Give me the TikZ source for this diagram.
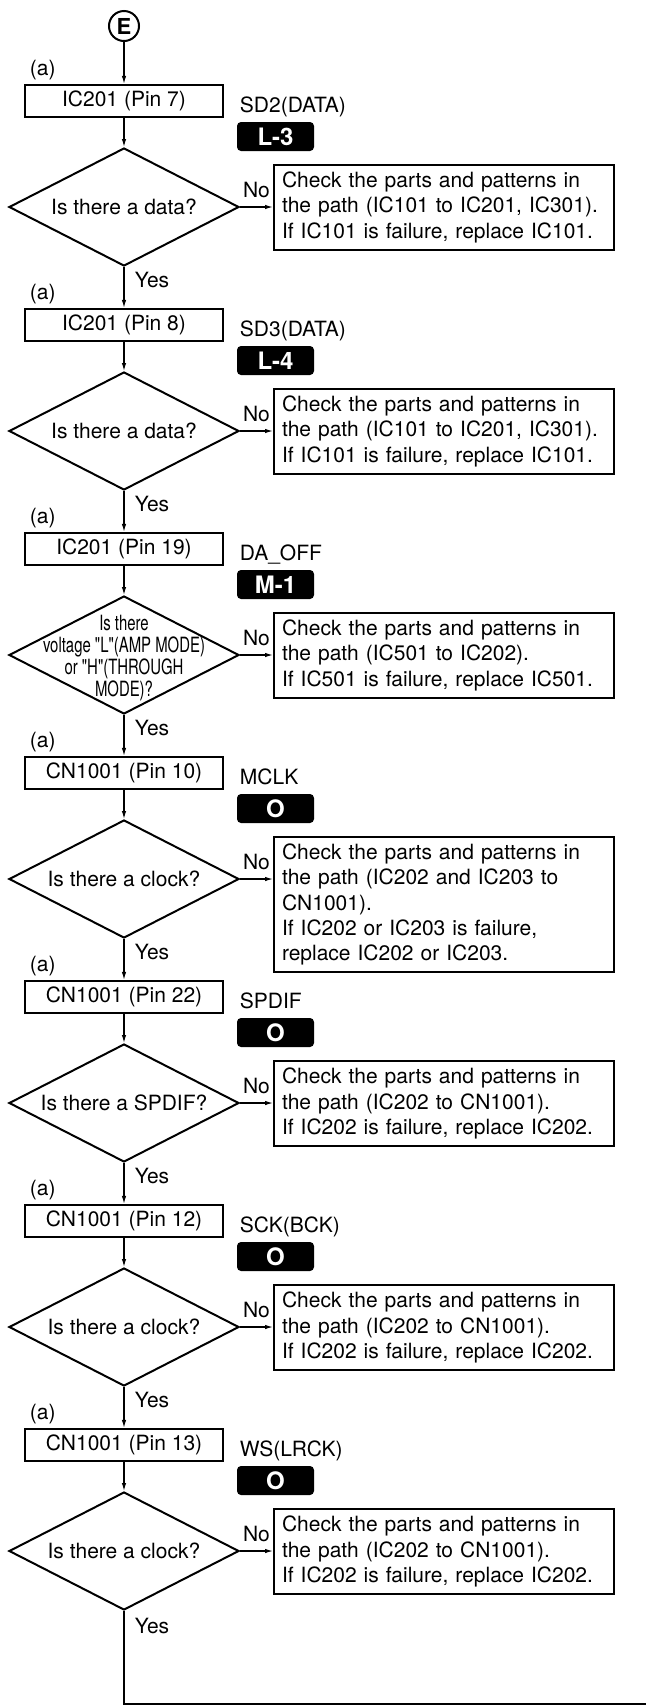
\documentclass[tikz,border=0pt]{standalone}
\usepackage{fontspec}
\setmainfont{TeX Gyre Heros}
\newfontfamily\narrowfont[FakeStretch=0.71]{TeX Gyre Heros}
\usetikzlibrary{shapes.geometric,arrows.meta}

\begin{document}
\begin{tikzpicture}[x=1pt, y=-1pt, line width=1.2pt,
    >={Latex[length=8pt, width=4.5pt]},
    font=\fontsize{21}{25.3}\selectfont,
    pinbox/.style={draw, line width=2.2pt, minimum width=198pt,
      minimum height=32pt, inner sep=0pt},
    tagbox/.style={fill=black, text=white, rounded corners=4pt,
      minimum width=77pt, minimum height=29pt, inner sep=0pt,
      font=\fontsize{24}{24}\selectfont\bfseries},
    askbox/.style={diamond, draw, line width=2pt, aspect=1.95,
      minimum width=230pt, minimum height=118pt, inner sep=0pt},
    chkbox/.style={draw, line width=2pt, anchor=north west,
      text width=324pt, align=left, inner xsep=8pt, inner ysep=7pt}]
        \useasboundingbox (0, 0) rectangle (646, 1706);
        \node[circle, draw, line width=2pt, minimum size=30pt, inner sep=0pt,
          font=\fontsize{22}{22}\selectfont\bfseries] (E) at (124, 26) {E};
        \foreach \k/\pin/\sig/\tag/\ask/\chk in {
          1/IC201 (Pin 7)/SD2(DATA)/L-3/Is there a data?/{Check the parts and patterns in\\the path (IC101 to IC201, IC301).\\If IC101 is failure, replace IC101.},
          2/IC201 (Pin 8)/SD3(DATA)/L-4/Is there a data?/{Check the parts and patterns in\\the path (IC101 to IC201, IC301).\\If IC101 is failure, replace IC101.},
          3/IC201 (Pin 19)/DA\_OFF/M-1/{\narrowfont\fontsize{21}{21}\selectfont\smash{\raisebox{-9pt}{\makebox[0pt]{\begin{tabular}{@{}c@{}}Is there\\voltage "L"(AMP MODE)\\or "H"(THROUGH\\MODE)?\end{tabular}}}}}/{Check the parts and patterns in\\the path (IC501 to IC202).\\If IC501 is failure, replace IC501.},
          4/CN1001 (Pin 10)/MCLK/O/Is there a clock?/{Check the parts and patterns in\\the path (IC202 and IC203 to\\CN1001).\\If IC202 or IC203 is failure,\\replace IC202 or IC203.},
          5/CN1001 (Pin 22)/SPDIF/O/Is there a SPDIF?/{Check the parts and patterns in\\the path (IC202 to CN1001).\\If IC202 is failure, replace IC202.},
          6/CN1001 (Pin 12)/SCK(BCK)/O/Is there a clock?/{Check the parts and patterns in\\the path (IC202 to CN1001).\\If IC202 is failure, replace IC202.},
          7/CN1001 (Pin 13)/WS(LRCK)/O/Is there a clock?/{Check the parts and patterns in\\the path (IC202 to CN1001).\\If IC202 is failure, replace IC202.}}
        {
          \pgfmathsetmacro\ty{85 + 224*(\k - 1)}
          \node[anchor=base west] (a\k) at (26, \ty - 10) {(a)};
          \node[pinbox] (b\k) at (124, \ty + 16) {\pin};
          \node[anchor=base west] (s\k) at (236, \ty + 27) {\sig};
          \node[tagbox] (t\k) at (275.5, \ty + 51.5) {\tag};
          \node[askbox] (d\k) at (124, \ty + 122) {\ask};
          \node[chkbox] (c\k) at (273, \ty + 79) {\chk};
          \draw[->] (b\k) -- (d\k);
          \draw[->] (d\k.east) -- (d\k.east -| c\k.west)
            node[midway, anchor=base, yshift=10pt] {No};
        }
        \draw[->] (E) -- (b1);
        \foreach \k [evaluate=\k as \n using int(\k + 1)] in {1, ..., 6}
          \draw[->] (d\k) -- (b\n)
            node[midway, anchor=base west, xshift=7pt] {Yes};
        \coordinate (out) at (646, 1704);
        \draw (d7.south) |- (out)
          node[pos=0.12, anchor=base west, xshift=7pt] {Yes};
\end{tikzpicture}
\end{document}
